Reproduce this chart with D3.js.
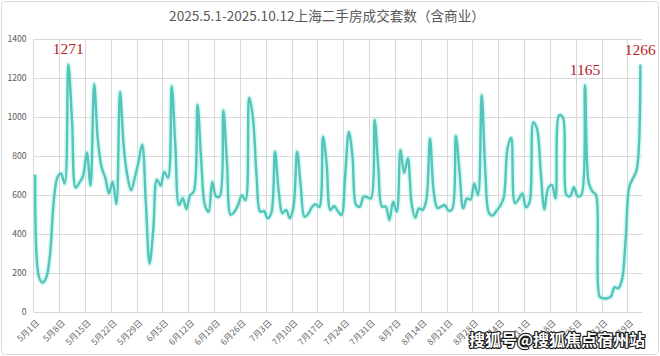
<!DOCTYPE html>
<html><head><meta charset="utf-8">
<script src="https://cdn.jsdelivr.net/npm/d3@7"></script>
<style>html,body{margin:0;padding:0;background:#fff;}svg{display:block;}</style>
</head><body>
<svg id="chart" width="660" height="356"></svg>
<script>
const title = "2025.5.1-2025.10.12上海二手房成交套数（含商业）";
const tickLabels = ["5月1日","5月8日","5月15日","5月22日","5月29日","6月5日","6月12日","6月19日","6月26日","7月3日","7月10日","7月17日","7月24日","7月31日","8月7日","8月14日","8月21日","8月28日","9月4日","9月11日","9月18日","9月25日","10月2日","10月9日"];
const yTicks = [0,200,400,600,800,1000,1200,1400];
const values = [
702,185,152,178,290,560,690,712,660,1271,
980,640,665,700,820,650,1170,880,745,690,
610,670,555,1130,850,700,625,690,770,860,
560,250,420,680,650,720,690,1160,850,550,
585,530,600,620,1065,780,550,515,670,595,
595,1035,760,500,515,550,600,575,1100,1000,
700,516,520,482,510,824,620,508,525,482,
540,824,640,490,505,540,554,540,900,760,
525,545,520,499,700,925,800,550,542,593,
590,584,986,740,542,542,473,567,516,832,
715,790,560,485,533,525,576,892,620,535,
542,550,521,528,904,720,533,584,579,661,
601,1114,720,508,496,520,545,590,840,895,
560,580,610,538,567,975,940,720,528,636,
653,584,1010,1000,601,596,641,596,601,1165,
665,620,600,80,72,72,80,128,123,165,
370,644,687,730,1266];
const labeledIdx = [9, 149, 164];
const watermark = "搜狐号@搜狐焦点宿州站";

const svg = d3.select("#chart");
const W = 660, H = 356;
const pLeft = 33.3, pRight = 642.2, pTop = 39.3, pBottom = 312.3;
const n = values.length;
const x = d3.scaleLinear().domain([-0.5, n - 0.5]).range([pLeft, pRight]);
const y = d3.scaleLinear().domain([0, 1400]).range([pBottom, pTop]);
const font = "'Noto Sans CJK SC', 'Noto Sans', sans-serif";

svg.append("rect").attr("x", 1.5).attr("y", 1.5).attr("width", W - 3).attr("height", H - 3)
  .attr("rx", 3).attr("fill", "#fff").attr("stroke", "#d9d9d9").attr("stroke-width", 1);

svg.append("text").attr("x", 327).attr("y", 21).attr("text-anchor", "middle")
  .attr("font-family", font).attr("font-size", 13.6)
  .attr("fill", "#595959").text(title);

svg.append("g").selectAll("line").data(yTicks).join("line")
  .attr("x1", pLeft).attr("x2", pRight)
  .attr("y1", d => Math.round(y(d)) + 0.5).attr("y2", d => Math.round(y(d)) + 0.5)
  .attr("stroke", "#d9d9d9").attr("stroke-width", 1);

const tickIdx = tickLabels.map((_, k) => k * 7);
svg.append("g").selectAll("line").data(tickIdx).join("line")
  .attr("x1", d => Math.round(x(d - 0.5)) + 0.5).attr("x2", d => Math.round(x(d - 0.5)) + 0.5)
  .attr("y1", pTop).attr("y2", pBottom)
  .attr("stroke", "#d9d9d9").attr("stroke-width", 1);

svg.append("g").selectAll("text").data(yTicks).join("text")
  .attr("x", 26.5).attr("y", d => y(d)).attr("dy", "0.35em").attr("text-anchor", "end")
  .attr("font-family", font).attr("font-size", 8.6)
  .attr("fill", "#595959").text(d => d);

svg.append("g").selectAll("text").data(tickIdx).join("text")
  .attr("transform", d => `translate(${x(d) + 2.5},${pBottom + 9}) rotate(-45)`)
  .attr("text-anchor", "end").attr("dy", "0.35em")
  .attr("font-family", font).attr("font-size", 8.6)
  .attr("fill", "#666").text((d, k) => tickLabels[k]);

const line = d3.line().x((d, i) => x(i)).y(d => y(d)).curve(d3.curveCatmullRom.alpha(0.5));
svg.append("path").datum(values).attr("d", line).attr("fill", "none")
  .attr("stroke", "#a6f2ec").attr("stroke-width", 5.5).attr("stroke-opacity", 0.45)
  .attr("stroke-linejoin", "round");
svg.append("path").datum(values).attr("d", line).attr("fill", "none")
  .attr("stroke", "#55c4b9").attr("stroke-width", 2.4)
  .attr("stroke-linejoin", "round").attr("stroke-linecap", "round");

svg.append("g").selectAll("text").data(labeledIdx).join("text")
  .attr("x", d => x(d)).attr("y", d => y(values[d]) - 10.5).attr("text-anchor", "middle")
  .attr("font-family", "'Liberation Serif', 'DejaVu Serif', serif").attr("font-size", 15.5)
  .attr("fill", "#b5232b").text(d => values[d]);

svg.append("text").attr("x", 645).attr("y", 346).attr("text-anchor", "end")
  .attr("font-family", "'Noto Sans CJK SC', sans-serif").attr("font-size", 16).attr("font-weight", "bold")
  .attr("fill", "#fff").attr("stroke", "#1a1a1a").attr("stroke-width", 2.4)
  .attr("paint-order", "stroke").attr("stroke-linejoin", "round").text(watermark);
</script>
</body></html>
